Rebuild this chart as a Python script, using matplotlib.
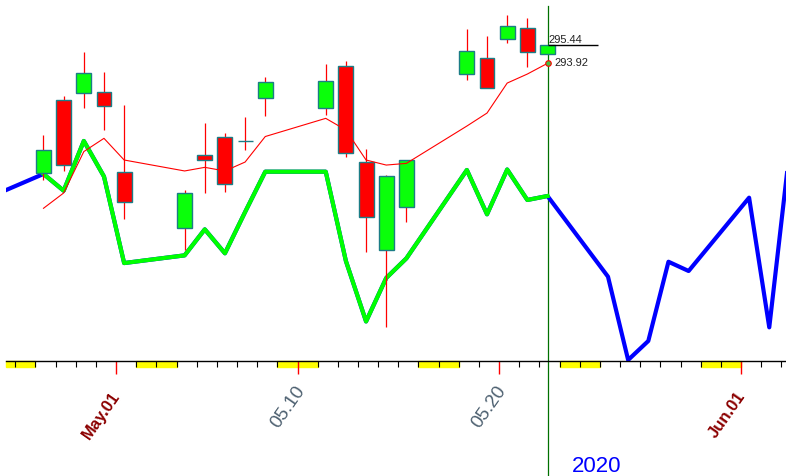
import matplotlib.pyplot as plt
import pandas as pd
from matplotlib.patches import Rectangle
from matplotlib.transforms import ScaledTranslation

plt.rcParams['font.family'] = ['Liberation Sans', 'DejaVu Sans']

# trading sessions shown as candles
candle_dates = ["2020-04-27", "2020-04-28", "2020-04-29", "2020-04-30", "2020-05-01",
                "2020-05-04", "2020-05-05", "2020-05-06", "2020-05-07", "2020-05-08",
                "2020-05-11", "2020-05-12", "2020-05-13", "2020-05-14", "2020-05-15",
                "2020-05-18", "2020-05-19", "2020-05-20", "2020-05-21", "2020-05-22"]
opens = [284.78, 290.87, 291.43, 291.56, 284.87,
         280.22, 286.28, 287.77, 287.47, 291.01,
         290.18, 293.72, 285.70, 278.41, 281.96,
         293.03, 294.34, 295.91, 296.83, 294.69]
highs = [287.97, 291.20, 294.83, 293.22, 290.46,
         283.40, 288.99, 288.16, 289.49, 292.81,
         293.86, 294.11, 286.78, 284.64, 285.91,
         296.74, 296.19, 297.93, 297.66, 295.44]
lows = [284.23, 284.98, 290.18, 288.36, 280.96,
        278.41, 283.17, 283.26, 286.72, 289.57,
        289.63, 286.16, 278.27, 272.04, 280.76,
        292.53, 291.84, 295.58, 293.64, 294.69]
closes = [286.69, 285.47, 293.09, 290.35, 282.38,
          283.12, 285.89, 283.90, 287.47, 292.34,
          292.43, 286.45, 281.13, 284.54, 285.91,
          294.97, 291.84, 297.02, 294.88, 295.44]
ma_values = [281.88, 283.15, 286.59, 287.69, 285.89,
             284.98, 285.28, 284.98, 285.72, 287.84,
             289.35, 288.38, 285.89, 285.47, 285.61,
             288.71, 289.79, 292.28, 293.03, 293.92]

# indicator line, runs one day before and several days past the candles
line_dates = ["2020-04-24"] + candle_dates + ["2020-05-25", "2020-05-26", "2020-05-27",
                                              "2020-05-28", "2020-05-29", "2020-06-01",
                                              "2020-06-02", "2020-06-03"]
line_values = [282.57,
               284.73, 283.34, 287.47, 284.52, 277.33,
               277.97, 280.13, 278.14, 281.57, 284.92,
               284.92, 277.50, 272.48, 276.09, 277.72,
               285.06, 281.38, 285.10, 282.57, 282.90,
               276.20, 269.28, 270.86, 277.44, 276.67,
               282.76, 271.99, 286.55]

tick_dates = ["2020-05-01", "2020-05-10", "2020-05-20", "2020-06-01"]
tick_labels = ["May.01", "05.10", "05.20", "Jun.01"]
weekend_starts = ["2020-04-25", "2020-05-02", "2020-05-09", "2020-05-16",
                  "2020-05-23", "2020-05-30"]

base = pd.Timestamp("2020-05-01")


def day(s):
    return (pd.Timestamp(s) - base).days


shift = 0.4  # candles sit a little right of the day tick
cx = [day(d) + shift for d in candle_dates]
lx = [day(d) + shift for d in line_dates]

fig = plt.figure(figsize=(7.86, 4.76), dpi=100)
ax = fig.add_axes([6 / 786, 115.3 / 476, 780 / 786, 360.7 / 476])
xmin, xmax = -5.46, 33.23
ax.set_xlim(xmin, xmax)
ax.set_ylim(269.22, 299.18)

# indicator: blue everywhere, green over the candle range
ax.plot(lx, line_values, color='#0000ff', lw=3, zorder=2)
ax.plot(lx[1:len(cx) + 1], line_values[1:len(cx) + 1], color='#00ff00', lw=3, zorder=2.1)

# candles
for x, o, h, l, c in zip(cx, opens, highs, lows, closes):
    ax.vlines(x, l, h, color='red', lw=0.9, zorder=3)
    ax.bar(x, c - o, bottom=o, width=0.74, color='#0aff0a' if c >= o else '#ff0000',
           edgecolor='#1b7d86', linewidth=1, zorder=4)

ax.plot(cx, ma_values, color='red', lw=0.8, zorder=5)

# last values
ax.hlines(closes[-1], cx[-1], cx[-1] + 2.5, color='black', lw=1, zorder=5)
ax.text(cx[-1], closes[-1], f"{closes[-1]:.2f}", fontsize=8, color='#222222',
        ha='left', va='bottom',
        transform=ax.transData + ScaledTranslation(0.01, 0.0, fig.dpi_scale_trans))
ax.plot(cx[-1], ma_values[-1], 'o', ms=4, mfc='#40c040', mec='red', mew=0.8, zorder=6)
ax.text(cx[-1], ma_values[-1], f"{ma_values[-1]:.2f}", fontsize=8, color='#222222',
        ha='left', va='center',
        transform=ax.transData + ScaledTranslation(0.07, 0.0, fig.dpi_scale_trans))
ax.axvline(cx[-1], ymin=-115.3 / 360.7, ymax=1 - 6 / 360.7, color='#007000', lw=0.9,
           clip_on=False, zorder=1)

# weekend marks under the axis
for s in weekend_starts:
    x0 = max(day(s), xmin)
    ax.add_patch(Rectangle((x0, -6.7 / 360.7), day(s) + 2 - x0, 6.7 / 360.7,
                           transform=ax.get_xaxis_transform(), color='#ffff00',
                           clip_on=False, zorder=0.5))

for sp in ['left', 'right', 'top']:
    ax.spines[sp].set_visible(False)
ax.spines['bottom'].set_linewidth(1)
ax.set_yticks([])
ax.set_xticks([day(d) for d in tick_dates])
ax.set_xticks(range(-5, 34), minor=True)
ax.tick_params(axis='x', which='minor', length=4.5, width=0.8, color='black')
ax.tick_params(axis='x', which='major', length=9.5, width=1, color='#ff0000', labelbottom=False)

# month starts bold dark red, other days grey-blue
for d, lab in zip(tick_dates, tick_labels):
    if lab[0].isalpha():
        ax.text(day(d), 0, lab, rotation=55, ha='right', va='top', fontsize=12,
                color='#8b0000', fontweight='bold',
                transform=ax.get_xaxis_transform() + ScaledTranslation(0.07, -0.28, fig.dpi_scale_trans))
    else:
        ax.text(day(d), 0, lab, rotation=55, ha='right', va='top', fontsize=13.5,
                color='#4d6070',
                transform=ax.get_xaxis_transform() + ScaledTranslation(0.11, -0.22, fig.dpi_scale_trans))

fig.text(572 / 786, 4 / 476, "2020", color='#0000ff', fontsize=16, ha='left', va='baseline')

fig.savefig("out.png", dpi=100)
